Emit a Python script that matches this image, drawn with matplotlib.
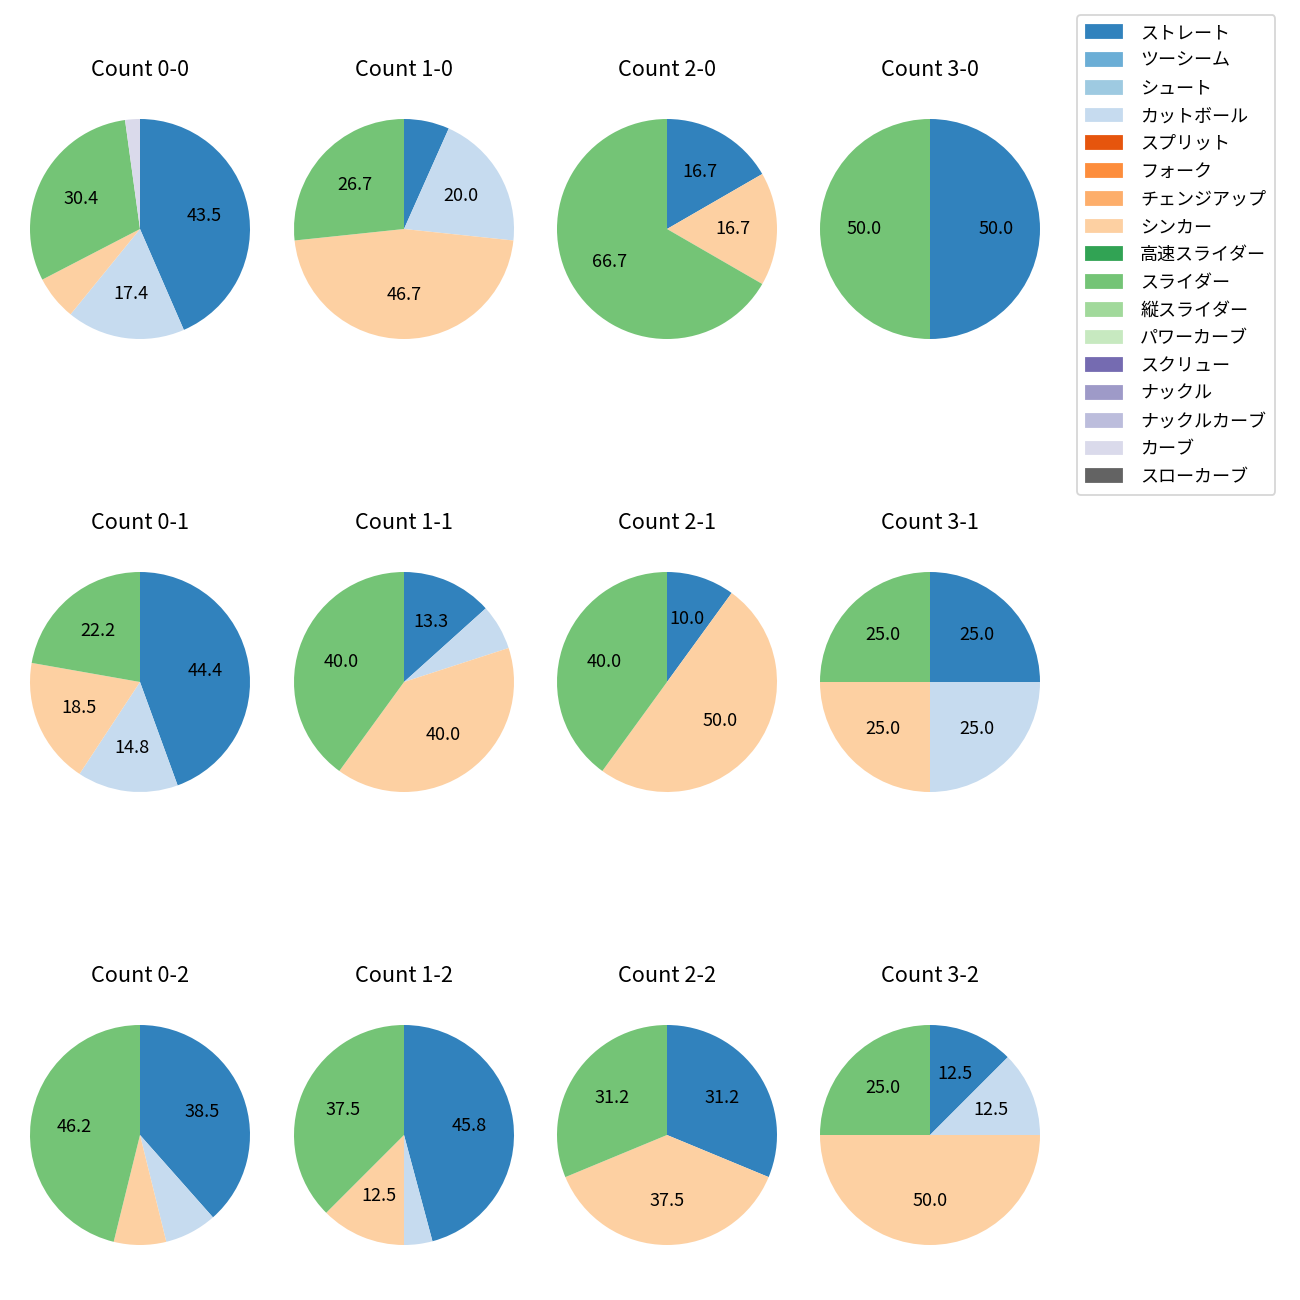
import numpy as np
import matplotlib
matplotlib.use("Agg")
import matplotlib.pyplot as plt

plt.rcParams['font.family'] = ['Noto Sans CJK JP', 'DejaVu Sans']

pitch_types = ['ストレート', 'ツーシーム', 'シュート', 'カットボール', 'スプリット', 'フォーク',
               'チェンジアップ', 'シンカー', '高速スライダー', 'スライダー', '縦スライダー',
               'パワーカーブ', 'スクリュー', 'ナックル', 'ナックルカーブ', 'カーブ', 'スローカーブ']

# pitch counts per ball-strike count; all other pitch types are zero
counts = ['0-0', '1-0', '2-0', '3-0',
          '0-1', '1-1', '2-1', '3-1',
          '0-2', '1-2', '2-2', '3-2']
straight = [20, 1, 1, 1, 12, 2, 1, 1, 5, 11, 5, 1]
cutter = [8, 3, 0, 0, 4, 1, 0, 1, 1, 1, 0, 1]
sinker = [3, 7, 1, 0, 5, 6, 5, 1, 1, 3, 6, 4]
slider = [14, 4, 4, 1, 6, 6, 4, 1, 6, 9, 5, 2]
curve = [1, 0, 0, 0, 0, 0, 0, 0, 0, 0, 0, 0]

colors = plt.cm.tab20c(np.arange(17) / 20.0)

fig = plt.figure(figsize=(10, 10), dpi=130)

# layout in output pixels
W, H = 1300, 1300
size = 275
col_x = [140, 404, 667, 930]
row_y = [229, 682, 1135]

for i, c in enumerate(counts):
    vals = np.zeros(len(pitch_types))
    vals[pitch_types.index('ストレート')] = straight[i]
    vals[pitch_types.index('カットボール')] = cutter[i]
    vals[pitch_types.index('シンカー')] = sinker[i]
    vals[pitch_types.index('スライダー')] = slider[i]
    vals[pitch_types.index('カーブ')] = curve[i]
    cx = col_x[i % 4]
    cy = row_y[i // 4]
    ax = fig.add_axes([(cx - size / 2) / W, 1 - (cy + size / 2) / H, size / W, size / H])
    mask = vals > 0
    ax.pie(vals[mask], colors=colors[mask], startangle=90, counterclock=False,
           autopct=lambda p: f'{p:.1f}' if p >= 10 else '')
    ax.set_title(f'Count {c}', fontsize=12, pad=8.5)

handles = [plt.Rectangle((0, 0), 1, 1, color=colors[k]) for k in range(len(pitch_types))]
fig.legend(handles, pitch_types, loc='upper left',
           bbox_to_anchor=(1077 / W, 1 - 15 / H), borderaxespad=0,
           fontsize=10, labelspacing=0.54, handletextpad=1.0, borderpad=0.5)

fig.savefig('out.png', dpi=130)
